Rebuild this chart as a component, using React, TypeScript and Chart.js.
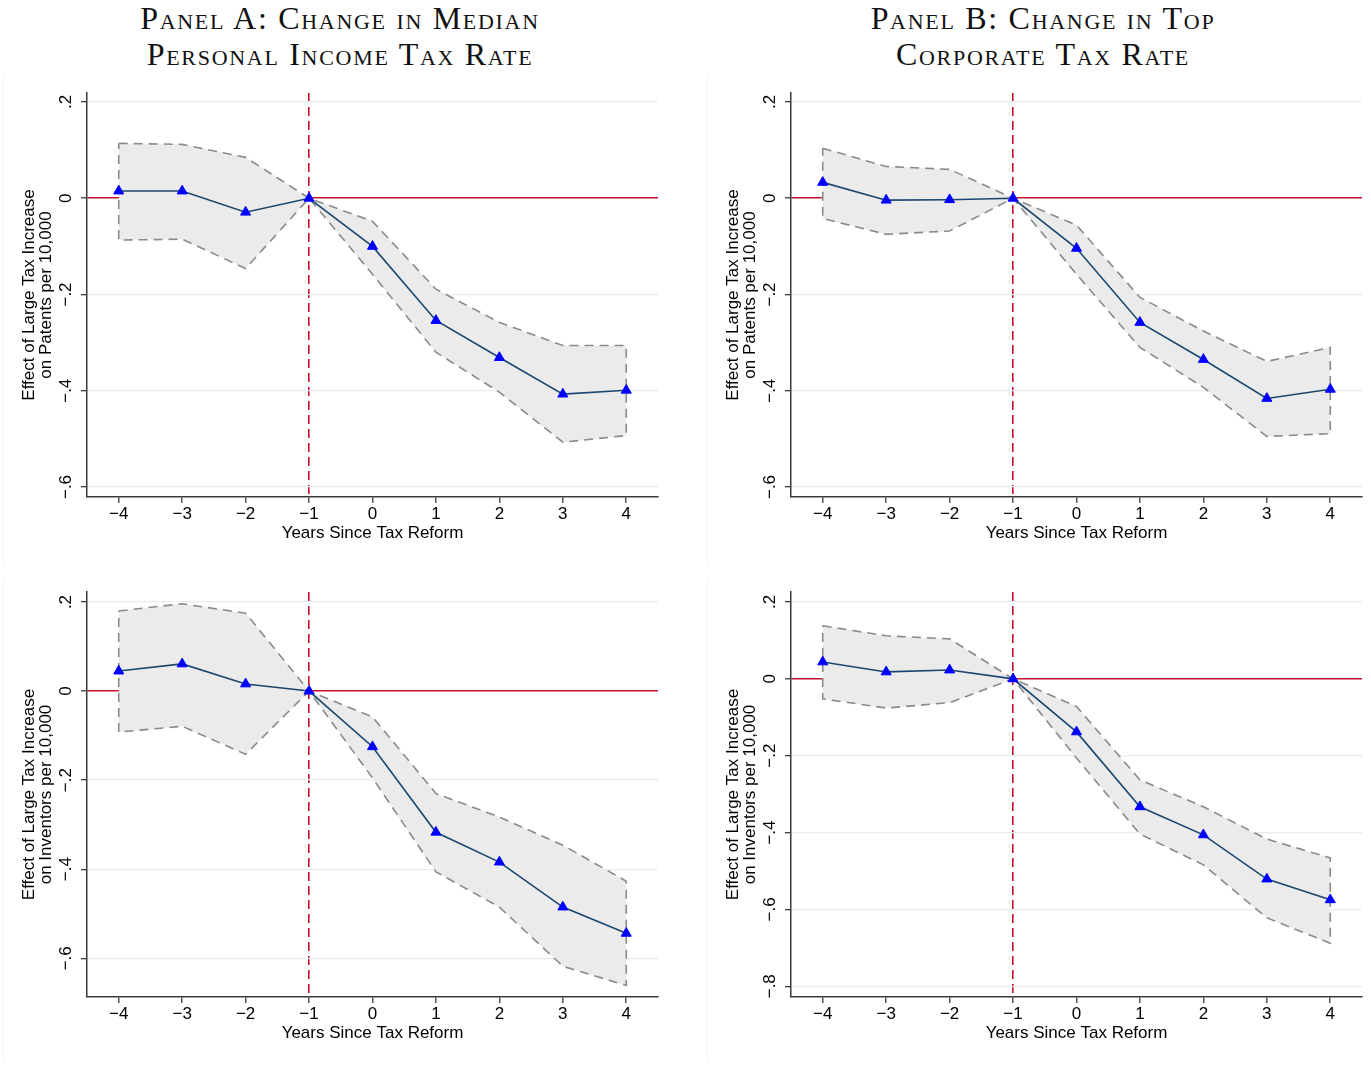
import React, { useEffect, useRef } from "react";
import { Chart, registerables } from "chart.js";

Chart.register(...registerables);

// ---------------- DATA ----------------
const years = [-4, -3, -2, -1, 0, 1, 2, 3, 4];
const xTicks = [-4, -3, -2, -1, 0, 1, 2, 3, 4];

// Panel A (median personal income tax), patents
const estA_pat = [0.015, 0.015, -0.029, 0, -0.1, -0.254, -0.331, -0.407, -0.399];
const hiA_pat = [0.114, 0.112, 0.085, 0, -0.048, -0.189, -0.258, -0.306, -0.306];
const loA_pat = [-0.087, -0.085, -0.146, 0, -0.158, -0.32, -0.403, -0.507, -0.493];

// Panel B (top corporate tax), patents
const estB_pat = [0.033, -0.004, -0.003, 0, -0.104, -0.258, -0.335, -0.416, -0.397];
const hiB_pat = [0.104, 0.066, 0.06, 0, -0.056, -0.206, -0.276, -0.339, -0.31];
const loB_pat = [-0.042, -0.075, -0.068, 0, -0.158, -0.31, -0.393, -0.495, -0.489];

// Panel A, inventors
const estA_inv = [0.045, 0.061, 0.016, 0, -0.125, -0.317, -0.384, -0.485, -0.544];
const hiA_inv = [0.18, 0.196, 0.175, 0, -0.058, -0.23, -0.283, -0.346, -0.427];
const loA_inv = [-0.092, -0.079, -0.142, 0, -0.195, -0.406, -0.485, -0.618, -0.661];

// Panel B, inventors
const estB_inv = [0.044, 0.018, 0.023, 0, -0.138, -0.333, -0.406, -0.521, -0.575];
const hiB_inv = [0.138, 0.112, 0.104, 0, -0.072, -0.263, -0.333, -0.417, -0.466];
const loB_inv = [-0.052, -0.076, -0.062, 0, -0.206, -0.404, -0.484, -0.622, -0.688];

const yTicksTop = [0.2, 0, -0.2, -0.4, -0.6];
const yTicksBL = [0.2, 0, -0.2, -0.4, -0.6];
const yTicksBR = [0.2, 0, -0.2, -0.4, -0.6, -0.8];

const panelTitleA = ["Panel A: Change in Median", "Personal Income Tax Rate"];
const panelTitleB = ["Panel B: Change in Top", "Corporate Tax Rate"];
const yTitlePatents = ["Effect of Large Tax Increase", "on Patents per 10,000"];
const yTitleInventors = ["Effect of Large Tax Increase", "on Inventors per 10,000"];
const xTitle = "Years Since Tax Reform";

// ---------------- STYLE ----------------
const FONT = "'Liberation Sans', Arial, Helvetica, sans-serif";
const NAVY = "#1a476f";
const BLUE = "#0000ff";
const GRAY = "#8a8a8a";
const BAND = "#ebebeb";
const RED = "#c8102e";
const AXIS = "#3a3a3a";
const GRID = "#e4eef0";

const fmtX = (v: number) => (v < 0 ? "\u2212" + Math.abs(v) : String(v));
const fmtY = (v: number) => {
  const r = Math.round(v * 10) / 10;
  if (r === 0) return "0";
  const s = Math.abs(r).toString().replace(/^0/, "");
  return r < 0 ? "\u2212" + s : s;
};

type PanelProps = {
  left: number;
  top: number;
  width: number;
  height: number;
  padRight: number;
  padTop: number;
  yMin: number;
  yMax: number;
  yTicks: number[];
  est: number[];
  hi: number[];
  lo: number[];
  yTitle: string[];
};

function Panel(p: PanelProps) {
  const ref = useRef<HTMLCanvasElement>(null);
  useEffect(() => {
    if (!ref.current) return;
    const pts = (arr: number[]) => years.map((x, i) => ({ x, y: arr[i] }));
    const outline = [
      ...years.map((x, i) => ({ x, y: p.hi[i] })),
      ...years
        .map((x, i) => ({ x, y: p.lo[i] }))
        .reverse(),
      { x: years[0], y: p.hi[0] },
    ];
    const chart = new Chart(ref.current, {
      type: "line",
      data: {
        datasets: [
          {
            label: "estimate",
            data: pts(p.est),
            borderColor: NAVY,
            borderWidth: 1.6,
            pointStyle: "triangle",
            pointRadius: 5.8,
            pointBackgroundColor: BLUE,
            pointBorderColor: BLUE,
            pointBorderWidth: 1,
            fill: false,
          },
          {
            label: "ci outline",
            data: outline,
            borderColor: GRAY,
            borderWidth: 1.6,
            borderDash: [9, 6],
            pointRadius: 0,
            fill: false,
          },
          {
            label: "upper",
            data: pts(p.hi),
            borderColor: "rgba(0,0,0,0)",
            borderWidth: 1,
            pointRadius: 0,
            backgroundColor: BAND,
            fill: "+1",
          },
          {
            label: "lower",
            data: pts(p.lo),
            borderColor: "rgba(0,0,0,0)",
            borderWidth: 1,
            pointRadius: 0,
            fill: false,
          },
        ],
      },
      options: {
        animation: false,
        responsive: false,
        devicePixelRatio: 1,
        layout: { padding: { left: 0, right: p.padRight, top: p.padTop, bottom: 0 } },
        elements: { line: { tension: 0 } },
        plugins: {
          legend: { display: false },
          tooltip: { enabled: false },
          title: { display: false },
        },
        scales: {
          x: {
            type: "linear",
            min: -4.5,
            max: 4.5,
            afterBuildTicks: (s: any) => {
              s.ticks = xTicks.map((v) => ({ value: v }));
            },
            afterFit: (s: any) => {
              s.height = 65;
            },
            ticks: {
              callback: (v: any) => fmtX(Number(v)),
              font: { family: FONT, size: 17 },
              color: "#000",
              padding: 1.5,
              maxRotation: 0,
              autoSkip: false,
            },
            grid: {
              color: (ctx: any) =>
                ctx.tick && ctx.tick.value === -1 ? RED : "rgba(0,0,0,0)",
              lineWidth: 1.6,
              tickLength: 6,
              tickColor: AXIS,
              tickWidth: 1.3,
            },
            border: { color: AXIS, width: 1.5, dash: [9, 5] },
            title: {
              display: true,
              text: xTitle,
              font: { family: FONT, size: 17, lineHeight: 1.2 },
              color: "#000",
              padding: { top: 0, bottom: 18 },
            },
          },
          y: {
            type: "linear",
            min: p.yMin,
            max: p.yMax,
            afterBuildTicks: (s: any) => {
              s.ticks = p.yTicks.map((v) => ({ value: v }));
            },
            afterFit: (s: any) => {
              s.width = 87;
            },
            ticks: {
              callback: (v: any) => fmtY(Number(v)),
              font: { family: FONT, size: 17 },
              color: "#000",
              minRotation: 90,
              maxRotation: 90,
              crossAlign: "center",
              padding: 2.5,
              autoSkip: false,
            },
            grid: {
              color: (ctx: any) =>
                ctx.tick && Math.abs(ctx.tick.value) < 1e-9 ? RED : GRID,
              lineWidth: (ctx: any) =>
                ctx.tick && Math.abs(ctx.tick.value) < 1e-9 ? 1.6 : 1.3,
              tickLength: 6,
              tickColor: AXIS,
              tickWidth: 1.3,
            },
            border: { color: AXIS, width: 1.5 },
            title: {
              display: true,
              text: p.yTitle,
              font: { family: FONT, size: 17, lineHeight: 1.0 },
              color: "#000",
              padding: { top: 21, bottom: 0 },
            },
          },
        },
      } as any,
    });
    return () => chart.destroy();
  }, []);
  return (
    <canvas
      ref={ref}
      width={p.width}
      height={p.height}
      style={{
        position: "absolute",
        left: p.left,
        top: p.top,
        width: p.width,
        height: p.height,
      }}
    />
  );
}

function PanelTitle({ lines, center }: { lines: string[]; center: number }) {
  return (
    <div
      style={{
        position: "absolute",
        left: center - 330,
        top: 0,
        width: 660,
        textAlign: "center",
        fontFamily: "'Liberation Serif', 'DejaVu Serif', serif",
        fontVariant: "small-caps",
        fontSize: 32,
        letterSpacing: "1.7px",
        lineHeight: "36px",
        color: "#111",
        whiteSpace: "nowrap",
      }}
    >
      {lines.map((l, i) => (
        <div key={i}>{l}</div>
      ))}
    </div>
  );
}

function Edge({ left, top, height }: { left: number; top: number; height: number }) {
  return (
    <div
      style={{
        position: "absolute",
        left,
        top,
        width: 1,
        height,
        background: "#f3f3f3",
      }}
    />
  );
}

export default function App() {
  return (
    <div
      style={{
        position: "absolute",
        left: 0,
        top: 0,
        width: 1371,
        height: 1066,
        background: "#fff",
        overflow: "hidden",
      }}
    >
      <Edge left={3} top={74} height={489} />
      <Edge left={3} top={577} height={486} />
      <Edge left={707} top={74} height={489} />
      <Edge left={707} top={577} height={486} />
      <PanelTitle lines={panelTitleA} center={340} />
      <PanelTitle lines={panelTitleB} center={1043} />
      <Panel
        left={0}
        top={78}
        width={700}
        height={484}
        padRight={42}
        padTop={15}
        yMin={-0.6208}
        yMax={0.2187}
        yTicks={yTicksTop}
        est={estA_pat}
        hi={hiA_pat}
        lo={loA_pat}
        yTitle={yTitlePatents}
      />
      <Panel
        left={704}
        top={78}
        width={667}
        height={484}
        padRight={9}
        padTop={15}
        yMin={-0.6208}
        yMax={0.2187}
        yTicks={yTicksTop}
        est={estB_pat}
        hi={hiB_pat}
        lo={loB_pat}
        yTitle={yTitlePatents}
      />
      <Panel
        left={0}
        top={575}
        width={700}
        height={487}
        padRight={42}
        padTop={17}
        yMin={-0.687}
        yMax={0.2225}
        yTicks={yTicksBL}
        est={estA_inv}
        hi={hiA_inv}
        lo={loA_inv}
        yTitle={yTitleInventors}
      />
      <Panel
        left={704}
        top={575}
        width={667}
        height={487}
        padRight={9}
        padTop={17}
        yMin={-0.828}
        yMax={0.226}
        yTicks={yTicksBR}
        est={estB_inv}
        hi={hiB_inv}
        lo={loB_inv}
        yTitle={yTitleInventors}
      />
    </div>
  );
}
